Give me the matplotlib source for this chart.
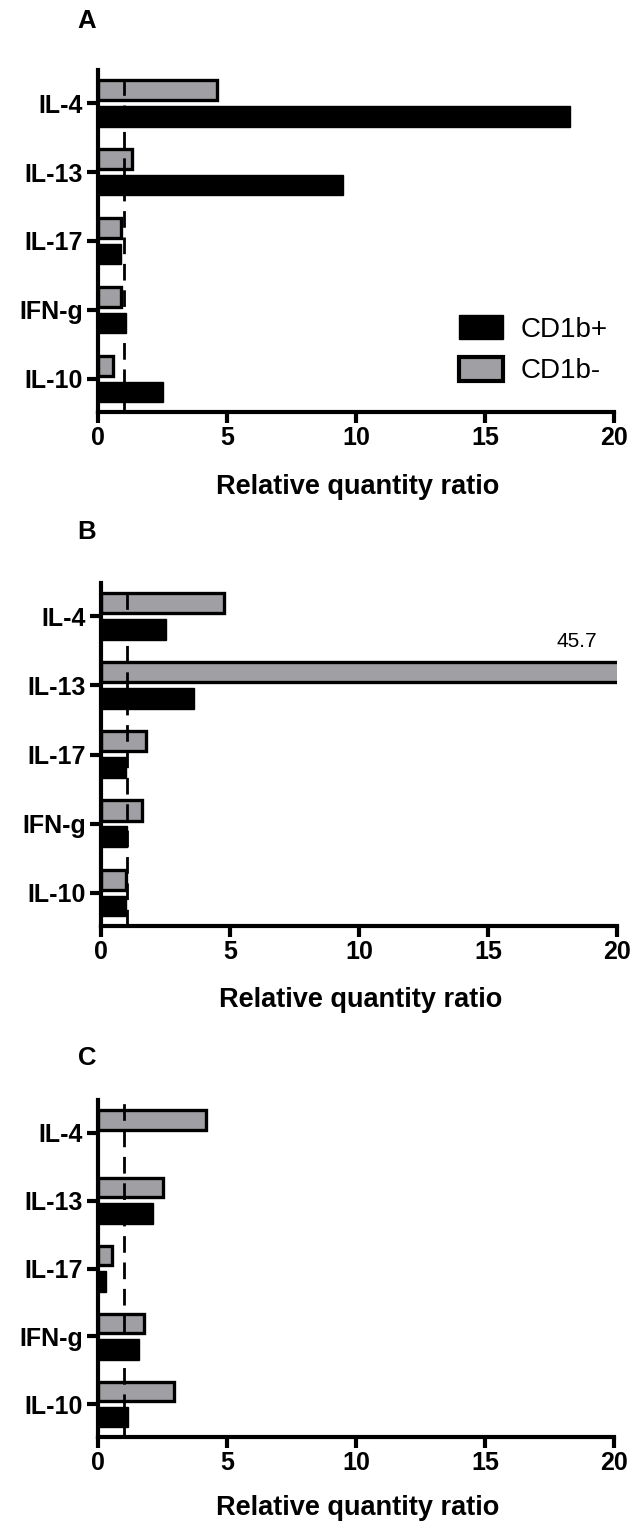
import matplotlib
matplotlib.use("Agg")
import matplotlib.pyplot as plt
from matplotlib.patches import Patch

plt.rcParams['font.family'] = ['Liberation Sans', 'DejaVu Sans']

categories = ["IL-4", "IL-13", "IL-17", "IFN-g", "IL-10"]
series_names = ["CD1b+", "CD1b-"]

a_pos = [18.3, 9.5, 0.9, 1.1, 2.5]
a_neg = [4.6, 1.3, 0.9, 0.9, 0.6]

b_pos = [2.5, 3.6, 0.95, 1.0, 0.95]
b_neg = [4.75, 45.7, 1.75, 1.6, 0.95]

c_pos = [0.0, 2.15, 0.3, 1.6, 1.15]
c_neg = [4.2, 2.5, 0.55, 1.8, 2.95]

panels = [("A", a_pos, a_neg), ("B", b_pos, b_neg), ("C", c_pos, c_neg)]
xticks = [0, 5, 10, 15, 20]
ref_line = 1.0
clip_label = "45.7"

W, H = 632, 1532
fig = plt.figure(figsize=(W / 100, H / 100), dpi=100)

# axes boxes in pixels: left, right, top, bottom
boxes = [(98, 614, 70, 412), (101, 617, 583, 926), (98, 614, 1100, 1437)]
letter_y = [21, 532, 1058]
xlabel_y = [487, 1000, 1508]

GRAY = "#a0a0a4"
n = len(categories)
ypos = list(range(n))[::-1]

for i, (letter, pos, neg) in enumerate(panels):
    l, r, t, b = boxes[i]
    ax = fig.add_axes([l / W, 1 - b / H, (r - l) / W, (b - t) / H])
    ax.barh([y + 0.19 for y in ypos], neg, height=0.29, color=GRAY,
            edgecolor="black", linewidth=2.4, zorder=2)
    ax.axvline(ref_line, color="black", linewidth=2.0, linestyle=(0, (6, 3.5)), zorder=3)
    ax.barh([y - 0.19 for y in ypos], pos, height=0.3, color="black",
            edgecolor="black", linewidth=1.0, zorder=4)
    ax.set_xlim(0, 20)
    ax.set_ylim(-0.48, n - 1 + 0.48)
    ax.set_yticks(ypos)
    ax.set_yticklabels(categories, fontsize=18, fontweight="bold")
    ax.set_xticks(xticks)
    ax.set_xticklabels([str(v) for v in xticks], fontsize=18, fontweight="bold")
    for s in ["top", "right"]:
        ax.spines[s].set_visible(False)
    for s in ["left", "bottom"]:
        ax.spines[s].set_linewidth(3.0)
    ax.tick_params(axis="y", width=3.0, length=8, pad=3)
    ax.tick_params(axis="x", width=3.0, length=8, pad=2)
    fig.text(((l + r) / 2 + 2) / W, 1 - xlabel_y[i] / H, "Relative quantity ratio",
             ha="center", va="center", fontsize=19.5, fontweight="bold")
    fig.text(87 / W, 1 - letter_y[i] / H, letter, ha="center", va="center",
             fontsize=18.5, fontweight="bold")
    if letter == "B":
        ax.text(18.45, ypos[1] + 0.19 + 0.45, clip_label, ha="center", va="center", fontsize=15)
    if letter == "A":
        handles = [Patch(facecolor="black", edgecolor="black", linewidth=1.0),
                   Patch(facecolor=GRAY, edgecolor="black", linewidth=3.0)]
        fig.legend(handles, series_names, loc="upper left",
                   bbox_to_anchor=(459 / W, 1 - 315 / H), frameon=False,
                   fontsize=20, handlelength=1.58, handleheight=0.97,
                   handletextpad=0.65, labelspacing=0.5, borderpad=0, borderaxespad=0)

fig.savefig("out.png", dpi=100)
